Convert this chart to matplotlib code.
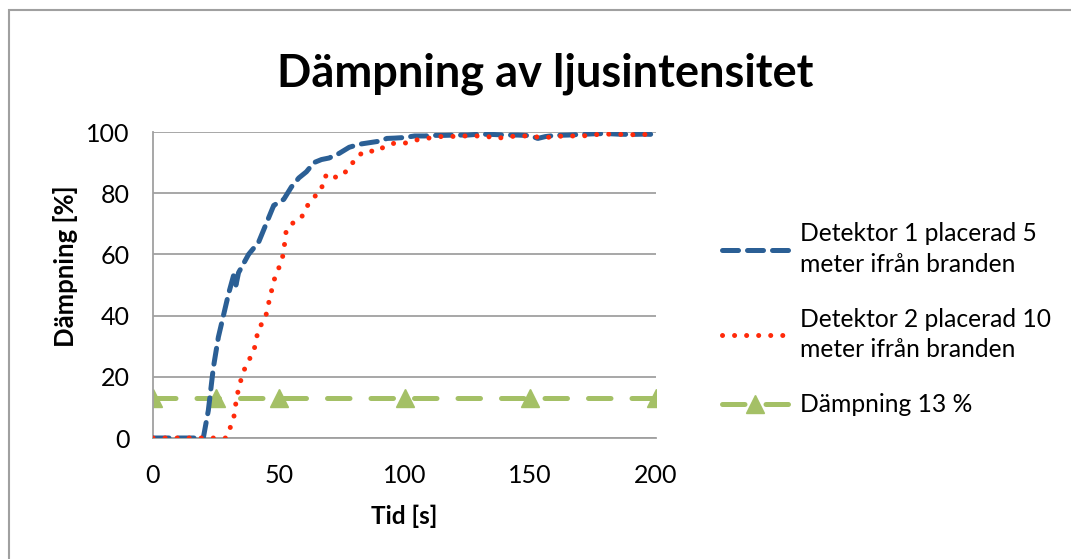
import matplotlib
matplotlib.use('Agg')
import matplotlib.pyplot as plt
from matplotlib.patches import Rectangle

plt.rcParams['font.family'] = ['Lato', 'DejaVu Sans']

# Detektor 1 (5 m)
t1 = [0, 5, 10, 15, 20, 22, 24, 26, 28, 30, 32, 33, 34, 36, 38, 40, 42, 44, 46, 48, 50, 52,
      55, 58, 61, 64, 67, 70, 74, 78, 82, 86, 90, 93, 96, 100, 104, 108, 112, 116, 120, 125,
      130, 135, 140, 145, 150, 153, 156, 160, 165, 170, 175, 180, 185, 190, 195, 200]
d1 = [0, 0, 0, 0, 0, 9, 23, 33, 40, 47, 53, 50, 54, 57, 60, 62, 64, 68, 72, 76, 77, 78,
      82, 85, 87, 90, 91, 91.5, 93, 95, 96, 96.5, 97, 97.9, 98, 98.2, 98.7, 98.7, 98.9, 98.9, 99, 99,
      99.3, 99.2, 99, 99, 98.8, 97.9, 98.5, 98.9, 99, 99.2, 99.4, 99.5, 99.3, 99.2, 99.3, 99.2]

# Detektor 2 (10 m)
t2 = [0, 5, 10, 15, 20, 25, 29, 32, 33.3, 34.6, 37, 40, 42, 44.5, 46.5, 48.5, 50.5, 51.8, 53,
      56.5, 59, 61, 64.4, 67, 67.7, 70.4, 73, 77.5, 81, 85, 89, 92.2, 96.6, 100.9, 104.8,
      109.5, 113.9, 118, 122.7, 127.4, 132, 136.7, 141.3, 146, 150.6, 155, 159, 163.8,
      168.5, 173, 177.7, 182.4, 187, 191.6, 196.3, 200]
d2 = [0, 0, 0, 0, 0, 0, 0, 6, 13.4, 18, 24, 28, 36, 38.5, 46, 52.6, 56.5, 60, 68,
      71, 72, 75.5, 79, 81, 85, 86.6, 85, 87.5, 92, 94, 93.5, 95.4, 96.5, 96.4, 97.4,
      98, 98.5, 98.5, 98.7, 98.7, 98.7, 97.9, 98.5, 98.7, 98.7, 98, 98.5, 98.7,
      98.7, 98.8, 99.3, 99.3, 99.2, 99.1, 99.2, 99]

# Dämpning 13 %
t3 = [0, 25, 50, 100, 150, 200]
d3 = [13, 13, 13, 13, 13, 13]

labels = ['Detektor 1 placerad 5\nmeter ifrån branden',
          'Detektor 2 placerad 10\nmeter ifrån branden',
          'Dämpning 13 %']

fig = plt.figure(figsize=(10.71, 5.59), dpi=100)
ax = fig.add_axes([153/1071, 1-438/559, 503/1071, 306/559])

ax.plot(t1, d1, color='#2b5f95', lw=3.6, dashes=(3.2, 1.8), dash_capstyle='round',
        label=labels[0], zorder=3)
ax.plot(t2, d2, color='#ff2a0a', lw=3.6, dashes=(0.01, 2.4), dash_capstyle='round',
        label=labels[1], zorder=4)
ax.plot(t3, d3, color='#a4c066', lw=3.6, dashes=(4.5, 4.2), dash_capstyle='round',
        marker='^', markersize=13, label=labels[2], zorder=2)

ax.set_xlim(0, 200)
ax.set_ylim(0, 100)
ax.set_xticks([0, 50, 100, 150, 200])
ax.set_yticks([0, 20, 40, 60, 80, 100])
ax.yaxis.grid(True, color='#a0a0a0', lw=1.3)
ax.set_axisbelow(True)
for s in ['top', 'right']:
    ax.spines[s].set_visible(False)
for s in ['left', 'bottom']:
    ax.spines[s].set_color('#a0a0a0')
    ax.spines[s].set_linewidth(1.3)
ax.tick_params(axis='both', length=0, labelsize=18)
ax.tick_params(axis='y', pad=17)
ax.tick_params(axis='x', pad=19)

ax.set_xlabel('Tid [s]', fontsize=17.5, fontweight='bold')
ax.set_ylabel('Dämpning [%]', fontsize=18.5, fontweight='bold')
ax.xaxis.set_label_coords(0.5, -0.219)
ax.yaxis.set_label_coords(-0.149, 0.56)
fig.text(545/1071, 1-74/559, 'Dämpning av ljusintensitet', ha='center', va='center',
         fontsize=32.5, fontweight='bold')

leg = ax.legend(loc='upper left', bbox_to_anchor=(700/1071, 1-200/559),
                bbox_transform=fig.transFigure, frameon=False, fontsize=17.7,
                handlelength=2.7, handletextpad=0.45, labelspacing=1.3)
for txt in leg.get_texts():
    txt.set_linespacing(1.4)

fig.patches.append(Rectangle((9/1071, -0.1), 1.2, 1-10/559+0.1, transform=fig.transFigure,
                             fill=False, edgecolor='#a0a0a0', lw=1.5))

fig.savefig('out.png', dpi=100)
